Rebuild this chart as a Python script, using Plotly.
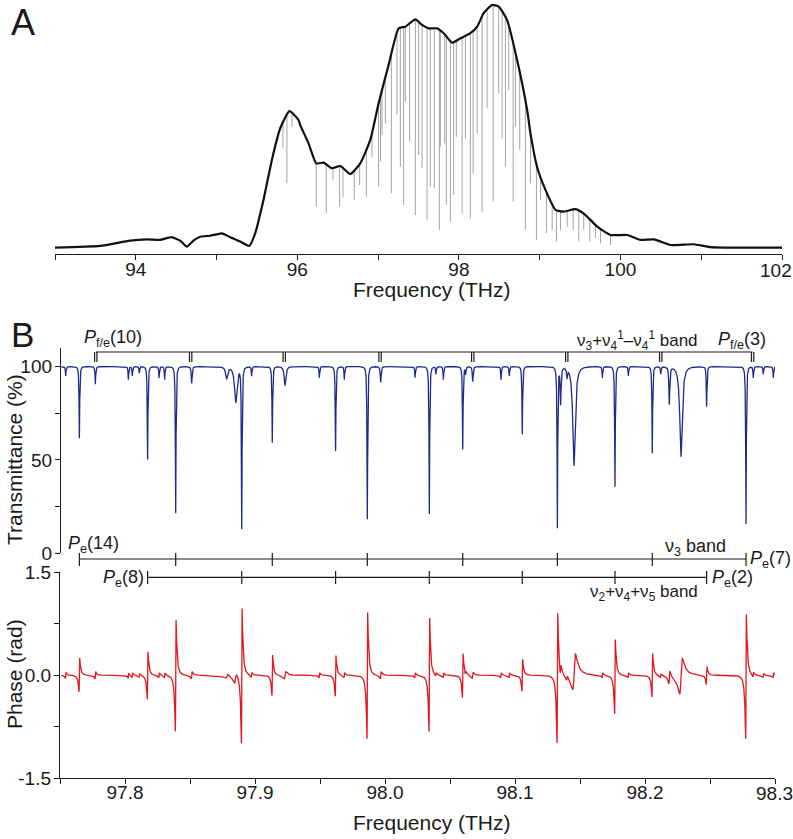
import numpy as np
import plotly.graph_objects as go

# ---------------- Panel A data ----------------
envA_freq = [93.000, 93.558, 93.929, 94.136, 94.301, 94.446, 94.549, 94.632, 94.714, 94.797,
             94.921, 95.066, 95.169, 95.292, 95.404, 95.478, 95.581, 95.685, 95.788, 95.903,
             96.015, 96.036, 96.139, 96.234, 96.325, 96.429, 96.532, 96.655, 96.779, 96.903,
             97.006, 97.130, 97.254, 97.337, 97.461, 97.544, 97.626, 97.730, 97.812, 97.916,
             98.019, 98.143, 98.226, 98.307, 98.411, 98.493, 98.597, 98.721, 98.845, 98.886,
             98.969, 99.072, 99.196, 99.299, 99.444, 99.568, 99.713, 99.877, 100.084, 100.249,
             100.414, 100.621, 100.909, 101.116, 102.000]
envA_amp = [0.000, 0.007, 0.029, 0.034, 0.032, 0.043, 0.029, 0.004, 0.029, 0.045,
            0.049, 0.059, 0.043, 0.025, 0.007, 0.059, 0.196, 0.360, 0.490, 0.560,
            0.524, 0.503, 0.428, 0.346, 0.349, 0.326, 0.335, 0.302, 0.346, 0.442,
            0.593, 0.750, 0.900, 0.907, 0.937, 0.914, 0.900, 0.900, 0.880, 0.841,
            0.859, 0.880, 0.907, 0.962, 0.996, 0.989, 0.934, 0.770, 0.565, 0.469,
            0.330, 0.237, 0.155, 0.148, 0.158, 0.134, 0.086, 0.052, 0.052, 0.032,
            0.034, 0.011, 0.014, 0.002, 0.000]

absA_freq = [95.822, 95.871, 95.933, 96.234, 96.358, 96.441, 96.523, 96.565, 96.705, 96.771,
             96.854, 96.924, 97.006, 97.030, 97.048, 97.089, 97.164, 97.234, 97.275, 97.316,
             97.337, 97.390, 97.461, 97.502, 97.544, 97.606, 97.647, 97.696, 97.758, 97.771,
             97.824, 97.845, 97.895, 97.936, 97.969, 98.040, 98.081, 98.142, 98.176, 98.226,
             98.287, 98.349, 98.424, 98.493, 98.535, 98.576, 98.617, 98.672, 98.700, 98.753,
             98.824, 98.886, 98.960, 99.010, 99.084, 99.155, 99.208, 99.258, 99.341, 99.415,
             99.484, 99.546, 99.621, 99.691, 99.753, 99.877]
absA_min = [0.408, 0.264, 0.497, 0.168, 0.141, 0.278, 0.168, 0.209, 0.196, 0.257,
            0.209, 0.373, 0.250, 0.353, 0.462, 0.510, 0.223, 0.545, 0.332, 0.175,
            0.600, 0.435, 0.134, 0.380, 0.326, 0.114, 0.250, 0.244, 0.073, 0.414,
            0.428, 0.175, 0.107, 0.216, 0.455, 0.141, 0.449, 0.121, 0.305, 0.469,
            0.148, 0.572, 0.189, 0.634, 0.449, 0.332, 0.647, 0.189, 0.497, 0.401,
            0.073, 0.264, 0.032, 0.196, 0.060, 0.073, 0.025, 0.073, 0.086, 0.073,
            0.025, 0.073, 0.025, 0.039, 0.018, 0.011]

# ---------------- Panel B data (absorption lines) ----------------
line_freq = [97.7544, 97.7649, 97.7772, 97.8026, 97.8056, 97.8110, 97.8174, 97.8262, 97.8305, 97.8390,
             97.8513, 97.8782, 97.8852, 97.8898, 97.8974, 97.9133, 97.9231, 97.9495, 97.9620, 97.9687,
             97.9864, 97.9967, 98.0231, 98.0341, 98.0392, 98.0449, 98.0598, 98.0620, 98.0675, 98.0892,
             98.0956, 98.1056, 98.1326, 98.1351, 98.1400, 98.1454, 98.1672, 98.1769, 98.1872, 98.2056,
             98.2121, 98.2187, 98.2277, 98.2474, 98.2777, 98.2833, 98.2910, 98.2987]
line_T = [95.0, 61.6, 90.5, 93.0, 95.0, 96.5, 50.3, 94.0, 93.0, 21.4,
          91.0, 93.5, 80.7, 13.7, 95.0, 59.3, 89.8, 94.0, 54.8, 93.0,
          18.2, 91.5, 94.0, 21.0, 96.0, 93.0, 55.7, 96.0, 92.0, 93.0,
          95.0, 63.7, 13.9, 80.3, 95.0, 46.8, 94.0, 35.7, 95.0, 53.6,
          96.0, 80.0, 51.7, 78.5, 15.7, 94.0, 96.0, 94.0]
phase_up = [0.05, 0.28, 0.06, 0.04, 0.04, 0.03, 0.38, 0.04, 0.04, 0.90,
            0.06, 0.04, 0.05, 1.07, 0.04, 0.33, 0.06, 0.04, 0.32, 0.04,
            1.02, 0.06, 0.04, 0.93, 0.03, 0.04, 0.36, 0.03, 0.05, 0.04,
            0.04, 0.26, 1.03, 0.10, 0.04, 0.37, 0.04, 0.58, 0.04, 0.36,
            0.03, 0.10, 0.29, 0.14, 0.99, 0.04, 0.03, 0.04]
phase_dn = [0.05, 0.27, 0.06, 0.04, 0.04, 0.03, 0.39, 0.04, 0.04, 0.91,
            0.06, 0.04, 0.12, 1.12, 0.04, 0.33, 0.06, 0.04, 0.34, 0.04,
            1.03, 0.06, 0.04, 0.91, 0.03, 0.04, 0.36, 0.03, 0.05, 0.04,
            0.04, 0.26, 1.08, 0.08, 0.04, 0.25, 0.04, 0.63, 0.04, 0.35,
            0.03, 0.12, 0.32, 0.15, 1.03, 0.04, 0.03, 0.04]
line_hw = [0.0003, 0.0003, 0.0003, 0.0003, 0.0003, 0.0003, 0.0003, 0.0003, 0.0003, 0.0003,
           0.0004, 0.0010, 0.0012, 0.0003, 0.0003, 0.0003, 0.0008, 0.0003, 0.0003, 0.0003,
           0.0003, 0.0004, 0.0003, 0.0003, 0.0003, 0.0003, 0.0003, 0.0003, 0.0004, 0.0003,
           0.0003, 0.0003, 0.0003, 0.0004, 0.0004, 0.0012, 0.0003, 0.0003, 0.0003, 0.0003,
           0.0003, 0.0004, 0.0012, 0.0003, 0.0003, 0.0003, 0.0003, 0.0003]

# bracket tick positions (THz)
pfe_ticks = [97.7775, 97.8505, 97.9225, 97.9962, 98.0675, 98.1398, 98.2121, 98.2828]
pe_v3_ticks = [97.7649, 97.8390, 97.9133, 97.9864, 98.0598, 98.1326, 98.2056, 98.2777]
pe_comb_ticks = [97.8174, 97.8898, 97.9620, 98.0341, 98.1056, 98.1769, 98.2474]

# axis ticks (the last label of each x axis sits at the page edge -> drawn as an annotation)
xA_major = [94, 96, 98, 100]
xA_minor = [93, 95, 97, 99, 101, 102]
xA_edge = (102, "102")
xB_major = [97.8, 97.9, 98.0, 98.1, 98.2]
xB_major_txt = ["97.8", "97.9", "98.0", "98.1", "98.2"]
xB_minor = [97.75, 97.85, 97.95, 98.05, 98.15, 98.25, 98.3]
xB_edge = (98.3, "98.3")
yT_major = [0, 50, 100]
yT_minor = [25, 75]
yP_major = [-1.5, 0.0, 1.5]
yP_major_txt = ["-1.5", "0.0", "1.5"]
yP_minor = [-0.75, 0.75]

# ---------------- build line-shape curves from the read line parameters ----------------
lf = np.array(line_freq); lT = np.array(line_T); lu = np.array(phase_up)
ld = np.array(phase_dn); lw = np.array(line_hw)
grid = np.concatenate([np.arange(97.751, 98.300, 0.00004), lf, lf - lw, lf + lw,
                       lf - 0.5 * lw, lf + 0.5 * lw])
grid = np.unique(np.round(grid, 6))
d = grid[:, None] - lf[None, :]
tau = 8 * lw + 0.002
win = np.exp(-np.abs(d) / tau)
lor = lw ** 2 / (lw ** 2 + d ** 2) * win
trans = 100.0 - ((100.0 - lT) * lor).sum(axis=1)
disp = 2 * lw * d / (lw ** 2 + d ** 2) * np.exp(-np.abs(d) / (0.6 * tau))
phase = (np.where(d > 0, lu, ld) * disp).sum(axis=1)

# Panel A absorption segments
envA_at = np.interp(absA_freq, envA_freq, envA_amp)
segx, segy = [], []
for f, top, bot in zip(absA_freq, envA_at, absA_min):
    segx += [f, f, None]
    segy += [top, bot, None]

W, H = 793, 839
def px(x):
    return x / W
def py(y):
    return 1 - y / H

FONT = "Liberation Sans, Arial, sans-serif"
INK = "#1a1a1a"

fig = go.Figure()
fig.add_trace(go.Scatter(x=segx, y=segy, mode="lines", xaxis="x", yaxis="y",
                         line=dict(color="rgba(70,70,70,0.55)", width=0.9), hoverinfo="skip"))
fig.add_trace(go.Scatter(x=envA_freq, y=envA_amp, mode="lines", xaxis="x", yaxis="y",
                         line=dict(color="#111111", width=2.2, shape="spline", smoothing=0.5)))
fig.add_trace(go.Scatter(x=grid, y=trans, mode="lines", xaxis="x2", yaxis="y2",
                         line=dict(color="#1c2a8a", width=1.3)))
fig.add_trace(go.Scatter(x=grid, y=phase, mode="lines", xaxis="x3", yaxis="y3",
                         line=dict(color="#e3161c", width=1.3)))

def ax(major, minor, txt=None, standoff=0):
    a = dict(showline=True, linecolor=INK, linewidth=1.3, ticks="outside", automargin=False,
             ticklen=5, tickwidth=1.3, tickcolor=INK, showgrid=False, zeroline=False,
             tickfont=dict(family=FONT, size=19, color=INK), ticklabelstandoff=standoff,
             tickmode="array", tickvals=major,
             minor=dict(tickmode="array", tickvals=minor, ticks="outside", ticklen=5,
                        tickwidth=1.3, tickcolor=INK, showgrid=False))
    if txt is not None:
        a["ticktext"] = txt
    return a

fig.update_layout(
    width=W, height=H, margin=dict(l=0, r=0, t=0, b=0, autoexpand=False),
    paper_bgcolor="white", plot_bgcolor="white", showlegend=False,
    xaxis=dict(domain=[px(55), px(782)], range=[93, 102], anchor="y",
               **ax(xA_major, xA_minor, standoff=-7)),
    yaxis=dict(domain=[py(254), py(3)], range=[-0.026, 1.004], visible=False, anchor="x",
               automargin=False),
    xaxis2=dict(domain=[px(60), px(775)], range=[97.75, 98.30], visible=False, anchor="y2",
                automargin=False),
    yaxis2=dict(domain=[py(553.3), py(348.3)], range=[0, 109.8], anchor="free", position=px(60),
                **ax(yT_major, yT_minor, standoff=-1)),
    xaxis3=dict(domain=[px(60), px(775)], range=[97.75, 98.30], anchor="y3",
                **ax(xB_major, xB_minor, xB_major_txt, standoff=-8)),
    yaxis3=dict(domain=[py(778.3), py(572.3)], range=[-1.5, 1.5], anchor="x3",
                **ax(yP_major, yP_minor, yP_major_txt, standoff=-1)),
)

shapes = []
def hline(x0, x1, y):
    shapes.append(dict(type="line", xref="x3", yref="paper", x0=x0, x1=x1, y0=py(y), y1=py(y),
                       line=dict(color=INK, width=1.2)))
def vline(x, y0, y1):
    shapes.append(dict(type="line", xref="x3", yref="paper", x0=x, x1=x, y0=py(y0), y1=py(y1),
                       line=dict(color=INK, width=1.2)))

hline(pfe_ticks[0], pfe_ticks[-1], 352)
for t in pfe_ticks:
    vline(t - 0.0009, 352, 362)
    vline(t + 0.0009, 352, 362)
hline(pe_v3_ticks[0], pe_v3_ticks[-1], 559)
for t in pe_v3_ticks:
    vline(t, 553, 566)
hline(pe_comb_ticks[0], pe_comb_ticks[-1], 577.3)
for t in pe_comb_ticks:
    vline(t, 571, 584)
fig.update_layout(shapes=shapes)

ann = []
def text(x, y, s, size=19, xanchor="center", angle=0, yanchor="middle", xref="paper"):
    ann.append(dict(x=(px(x) if xref == "paper" else x), y=py(y), xref=xref, yref="paper",
                    text=s, showarrow=False, xanchor=xanchor, yanchor=yanchor, textangle=angle,
                    font=dict(family=FONT, size=size, color=INK)))

text(23, 0, "A", size=36, yanchor="top")
text(22, 334, "B", size=35)
text(432, 289, "Frequency (THz)", size=21)
text(432, 822, "Frequency (THz)", size=21)
text(14, 460, "Transmittance (%)", size=21, angle=-90)
text(14, 674, "Phase (rad)", size=21, angle=-90)
text(82, 338, "<i>P</i><sub>f/e</sub>(10)", size=18, xanchor="left")
text(700, 340, "ν<sub>3</sub>+ν<sub>4</sub><sup>1</sup>–ν<sub>4</sub><sup>1</sup> band", size=17, xanchor="right")
text(716, 340, "<i>P</i><sub>f/e</sub>(3)", size=18, xanchor="left")
text(66, 544, "<i>P</i><sub>e</sub>(14)", size=18, xanchor="left")
text(663, 547, "ν<sub>3</sub> band", size=18, xanchor="left")
text(748, 559, "<i>P</i><sub>e</sub>(7)", size=18, xanchor="left")
text(146, 578, "<i>P</i><sub>e</sub>(8)", size=18, xanchor="right")
text(710, 578, "<i>P</i><sub>e</sub>(2)", size=18, xanchor="left")
text(700, 593, "ν<sub>2</sub>+ν<sub>4</sub>+ν<sub>5</sub> band", size=17, xanchor="right")
# edge tick labels (kept inside the page)
text(xA_edge[0], 270, xA_edge[1], size=19, xanchor="right", xref="x")
ann[-1]["xshift"] = 12
text(xB_edge[0], 793, xB_edge[1], size=19, xanchor="center", xref="x3")
ann[-1]["xshift"] = -1
fig.update_layout(annotations=ann)

fig.write_html("out.html", config={"displayModeBar": False},
               post_script="document.body.style.margin='0px';document.body.style.overflow='hidden';")
